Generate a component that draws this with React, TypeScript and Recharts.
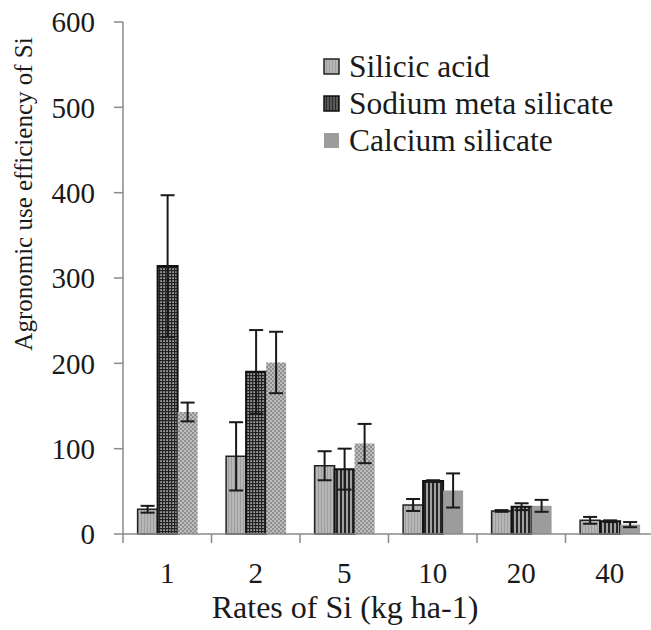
import { Bar, BarChart, Cell, ErrorBar, Legend, XAxis, YAxis } from "recharts";

const categories = ["1", "2", "5", "10", "20", "40"];
const silicicAcid = [29, 91, 80, 34, 27, 16];
const silicicAcidErr = [4, 40, 17, 7, 1, 4];
const sodiumMetaSilicate = [314, 190, 76, 62, 32, 15];
const sodiumMetaSilicateErr = [83, 49, 24, 1, 4, 1];
const calciumSilicate = [143, 201, 106, 51, 33, 11];
const calciumSilicateErr = [11, 36, 23, 20, 7, 3];
const yTicks = [0, 100, 200, 300, 400, 500, 600];

const data = categories.map((rate, i) => ({
  rate,
  silicic: silicicAcid[i],
  silicicErr: silicicAcidErr[i],
  sodium: sodiumMetaSilicate[i],
  sodiumErr: sodiumMetaSilicateErr[i],
  calcium: calciumSilicate[i],
  calciumErr: calciumSilicateErr[i],
}));

// fill patterns change between rate groups, like the original
const sodiumFills = ["url(#checks)", "url(#checks)", "url(#stripes)", "url(#stripes)", "url(#stripes)", "url(#stripes)"];
const calciumFills = ["url(#dots)", "url(#dots)", "url(#dots)", "#9c9c9c", "#9c9c9c", "#9c9c9c"];

const FONT = '"Liberation Serif", "Times New Roman", serif';
const CHART_W = 654;
const CHART_H = 630;
const Y_AXIS_W = 123;
const BAND = (CHART_W - Y_AXIS_W) / categories.length;
const TEXT = "#1a1a1a";
const AXIS = "#8a8a8a";

function Patterns() {
  return (
    <svg width={0} height={0} style={{ position: "absolute" }}>
      <defs>
        <pattern id="silicic" width={3} height={10} patternUnits="userSpaceOnUse">
          <rect width={3} height={10} fill="#b6b6b6" />
          <rect width={1} height={10} fill="#9e9e9e" />
        </pattern>
        <pattern id="checks" width={3} height={3} patternUnits="userSpaceOnUse">
          <rect width={3} height={3} fill="#9a9a9a" />
          <rect width={3} height={1.2} fill="#222" />
          <rect width={1.2} height={3} fill="#222" />
        </pattern>
        <pattern id="stripes" width={4} height={10} patternUnits="userSpaceOnUse">
          <rect width={4} height={10} fill="#a0a0a0" />
          <rect width={2} height={10} fill="#262626" />
        </pattern>
        <pattern id="dots" width={4} height={4} patternUnits="userSpaceOnUse">
          <rect width={4} height={4} fill="#bdbdbd" />
          <circle cx={1} cy={1} r={0.9} fill="#7a7a7a" />
          <circle cx={3} cy={3} r={0.9} fill="#7a7a7a" />
        </pattern>
        <pattern id="legendSodium" width={3} height={10} patternUnits="userSpaceOnUse">
          <rect width={3} height={10} fill="#5a5a5a" />
          <rect width={1} height={10} fill="#2a2a2a" />
        </pattern>
      </defs>
    </svg>
  );
}

const legendItems = [
  { name: "Silicic acid", fill: "url(#silicic)", stroke: "#222" },
  { name: "Sodium meta silicate", fill: "url(#legendSodium)", stroke: "#111" },
  { name: "Calcium silicate", fill: "#9c9c9c", stroke: "none" },
];

function LegendBox() {
  return (
    <div style={{ fontFamily: FONT, fontSize: 31.5, color: TEXT }}>
      {legendItems.map((item) => (
        <div key={item.name} style={{ display: "flex", alignItems: "center", height: 37 }}>
          <svg width={18} height={18} style={{ marginRight: 8 }}>
            <rect x={1} y={1} width={15} height={15} fill={item.fill} stroke={item.stroke} strokeWidth={1.5} />
          </svg>
          <span style={{ whiteSpace: "nowrap" }}>{item.name}</span>
        </div>
      ))}
    </div>
  );
}

function XTick({ x, y, payload }: any) {
  const edge = x - BAND / 2;
  return (
    <g>
      <line x1={edge} x2={edge} y1={y - 28} y2={y - 19} stroke={AXIS} strokeWidth={1.5} />
      <text x={x} y={y} dy="0.71em" textAnchor="middle" fontSize={29} fontFamily={FONT} fill={TEXT}>
        {payload.value}
      </text>
    </g>
  );
}

export default function App() {
  return (
    <div
      style={{
        position: "absolute",
        left: 0,
        top: 0,
        width: 651,
        height: 630,
        overflow: "hidden",
        background: "#fff",
      }}
    >
      <Patterns />
      <BarChart
        width={CHART_W}
        height={CHART_H}
        data={data}
        margin={{ top: 22, right: 0, left: 0, bottom: 0 }}
        barCategoryGap="16.5%"
        barGap={0}
      >
        <XAxis
          dataKey="rate"
          height={96}
          stroke={AXIS}
          strokeWidth={1.5}
          tickLine={false}
          tickSize={8}
          tickMargin={20}
          tick={<XTick />}
          interval={0}
          label={() => (
            <text x={345} y={618} textAnchor="middle" fontSize={32} fontFamily={FONT} fill={TEXT}>
              Rates of Si (kg ha-1)
            </text>
          )}
        />
        <YAxis
          width={Y_AXIS_W}
          domain={[0, 600]}
          ticks={yTicks}
          interval={0}
          stroke={AXIS}
          strokeWidth={1.5}
          tickSize={9}
          tickMargin={19}
          tick={{ fontSize: 29, fontFamily: FONT, fill: TEXT }}
          label={() => (
            <text
              x={32}
              y={194}
              transform="rotate(-90, 32, 194)"
              textAnchor="middle"
              fontSize={25}
              fontFamily={FONT}
              fill={TEXT}
            >
              Agronomic use efficiency of Si
            </text>
          )}
        />
        <Legend
          layout="vertical"
          verticalAlign="middle"
          align="center"
          wrapperStyle={{ top: 48, left: 323, width: 328 }}
          content={<LegendBox />}
        />
        <Bar dataKey="silicic" name="Silicic acid" fill="url(#silicic)" stroke="#222" strokeWidth={1.5} isAnimationActive={false}>
          <ErrorBar dataKey="silicicErr" width={7} stroke="#1a1a1a" strokeWidth={2} />
        </Bar>
        <Bar dataKey="sodium" name="Sodium meta silicate" stroke="#111" strokeWidth={2} isAnimationActive={false}>
          {data.map((d, i) => (
            <Cell key={d.rate} fill={sodiumFills[i]} />
          ))}
          <ErrorBar dataKey="sodiumErr" width={7} stroke="#1a1a1a" strokeWidth={2} />
        </Bar>
        <Bar dataKey="calcium" name="Calcium silicate" isAnimationActive={false}>
          {data.map((d, i) => (
            <Cell key={d.rate} fill={calciumFills[i]} />
          ))}
          <ErrorBar dataKey="calciumErr" width={7} stroke="#1a1a1a" strokeWidth={2} />
        </Bar>
      </BarChart>
    </div>
  );
}
